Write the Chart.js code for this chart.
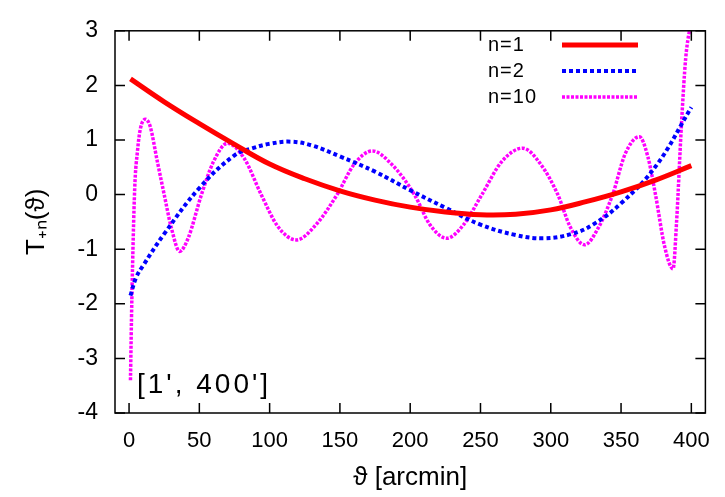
<!DOCTYPE html>
<html>
<head>
<meta charset="utf-8">
<script src="https://cdn.jsdelivr.net/npm/chart.js@4.4.1/dist/chart.umd.min.js"></script>
<style>
    html, body { margin: 0; padding: 0; background: #fff; }
</style>
</head>
<body>
<canvas id="chart" width="725" height="497"></canvas>
<script>
// tick labels
const thetaTicks = [0, 50, 100, 150, 200, 250, 300, 350, 400];
const yTicks = [-4, -3, -2, -1, 0, 1, 2, 3];

// n=1
const n1Theta = [1, 25, 50, 75, 100, 125, 150, 175, 200, 225, 250, 275, 300, 325, 350, 375, 400];
const n1Values = [2.12, 1.7, 1.3, 0.92, 0.56, 0.29, 0.07, -0.1, -0.23, -0.32, -0.37, -0.36, -0.28, -0.13, 0.05, 0.27, 0.53];

// n=2
const n2Theta = [1, 5, 10, 25, 50, 75, 88, 100, 115, 130, 150, 175, 200, 225, 250, 275, 295, 315, 330, 350, 375, 400];
const n2Values = [-1.85, -1.52, -1.3, -0.72, 0.12, 0.72, 0.85, 0.93, 0.97, 0.9, 0.7, 0.42, 0.08, -0.24, -0.55, -0.74, -0.8, -0.72, -0.55, -0.16, 0.53, 1.6];

// n=10
const n10Theta = [1, 2, 4, 6, 8, 11.7, 15, 20, 25, 30, 36, 42, 51.5, 60, 70, 82, 94, 106, 119, 133, 148, 160, 173, 187,
    203, 214, 226, 238, 251, 265, 280, 293, 305, 314, 324, 334, 344, 353, 363, 369, 374.5, 381, 387, 389.5, 393, 396, 400];
const n10Values = [-3.4, -1.9, 0.1, 0.8, 1.2, 1.38, 1.25, 0.62, 0, -0.6, -1.04, -0.8, 0, 0.6, 0.94, 0.66, 0, -0.59, -0.83, -0.55, 0, 0.55, 0.8, 0.55,
    0, -0.55, -0.8, -0.55, 0, 0.6, 0.85, 0.55, 0, -0.6, -0.92, -0.6, 0, 0.75, 1.06, 0.7, 0, -0.95, -1.36, -0.5, 1.3, 2.5, 3.2];

const seriesNames = ['n=1', 'n=2', 'n=10'];
const seriesColors = ['#ff0000', '#0000ff', '#ff00ff'];
const seriesDash = [[], [4, 3], [3, 1.5]];
const seriesWidth = [5, 4, 3.5];
const seriesMode = ['default', 'default', 'monotone'];

function toPoints(xs, ys) {
    return xs.map((x, i) => ({ x: x, y: ys[i] }));
}

const pointSets = [toPoints(n1Theta, n1Values), toPoints(n2Theta, n2Values), toPoints(n10Theta, n10Values)];

// box, inward ticks, key and the range note, gnuplot style
const framePlugin = {
    id: 'frame',
    afterDraw(chart) {
        const ctx = chart.ctx;
        const area = chart.chartArea;
        const xs = chart.scales.x;
        const ys = chart.scales.y;
        const tick = 10;

        ctx.save();
        ctx.strokeStyle = '#000';
        ctx.lineWidth = 1.5;
        ctx.strokeRect(area.left, area.top, area.right - area.left, area.bottom - area.top);

        ctx.beginPath();
        for (const v of thetaTicks) {
            const px = xs.getPixelForValue(v);
            ctx.moveTo(px, area.bottom);
            ctx.lineTo(px, area.bottom - tick);
            ctx.moveTo(px, area.top);
            ctx.lineTo(px, area.top + tick);
        }
        for (const v of yTicks) {
            const py = ys.getPixelForValue(v);
            ctx.moveTo(area.left, py);
            ctx.lineTo(area.left + tick, py);
            ctx.moveTo(area.right, py);
            ctx.lineTo(area.right - tick, py);
        }
        ctx.stroke();

        // key
        ctx.font = '20px "Liberation Sans", Arial, sans-serif';
        ctx.letterSpacing = '1px';
        ctx.textBaseline = 'middle';
        ctx.textAlign = 'left';
        ctx.fillStyle = '#000';
        seriesNames.forEach((name, i) => {
            const y = 45 + i * 26;
            ctx.fillText(name, 488, y);
            ctx.beginPath();
            ctx.strokeStyle = seriesColors[i];
            ctx.lineWidth = seriesWidth[i];
            ctx.setLineDash(seriesDash[i]);
            ctx.moveTo(562, y);
            ctx.lineTo(638, y);
            ctx.stroke();
        });
        ctx.setLineDash([]);

        // range note
        ctx.font = '28px "Liberation Sans", Arial, sans-serif';
        ctx.letterSpacing = '3px';
        ctx.textBaseline = 'alphabetic';
        ctx.fillStyle = '#000';
        ctx.fillText("[1', 400']", 137, 393);
        ctx.restore();
    }
};

document.addEventListener('DOMContentLoaded', function () {
    const canvas = document.getElementById('chart');

    new Chart(canvas, {
        type: 'line',
        data: {
            datasets: pointSets.map((pts, i) => ({
                label: seriesNames[i],
                data: pts,
                borderColor: seriesColors[i],
                borderWidth: seriesWidth[i],
                borderDash: seriesDash[i],
                pointRadius: 0,
                fill: false,
                tension: 0.4,
                cubicInterpolationMode: seriesMode[i]
            }))
        },
        options: {
            responsive: false,
            animation: false,
            devicePixelRatio: 1,
            layout: {
                padding: { top: 17, right: 13, left: 0, bottom: 0 }
            },
            plugins: {
                legend: { display: false },
                tooltip: { enabled: false }
            },
            scales: {
                x: {
                    type: 'linear',
                    min: -10,
                    max: 410,
                    afterBuildTicks: s => { s.ticks = thetaTicks.map(v => ({ value: v })); },
                    afterFit: s => { s.height = 84; },
                    grid: { display: false, drawTicks: false },
                    border: { display: false },
                    ticks: {
                        color: '#000',
                        padding: 15,
                        maxRotation: 0,
                        font: { family: '"Liberation Sans", Arial, sans-serif', size: 22 }
                    },
                    title: {
                        display: true,
                        text: 'ϑ [arcmin]',
                        color: '#000',
                        padding: { top: 0, bottom: 4 },
                        font: { family: '"Liberation Sans", Arial, sans-serif', size: 26 }
                    }
                },
                y: {
                    min: -4,
                    max: 3,
                    afterBuildTicks: s => { s.ticks = yTicks.map(v => ({ value: v })); },
                    afterFit: s => { s.width = 115; },
                    grid: { display: false, drawTicks: false },
                    border: { display: false },
                    ticks: {
                        color: '#000',
                        padding: 17,
                        font: { family: '"Liberation Sans", Arial, sans-serif', size: 23 }
                    },
                    title: {
                        display: true,
                        text: 'T₊ₙ(ϑ)',
                        color: '#000',
                        padding: { top: 21, bottom: 0 },
                        font: { family: '"Liberation Sans", Arial, sans-serif', size: 26 }
                    }
                }
            }
        },
        plugins: [framePlugin]
    });
});
</script>
</body>
</html>
